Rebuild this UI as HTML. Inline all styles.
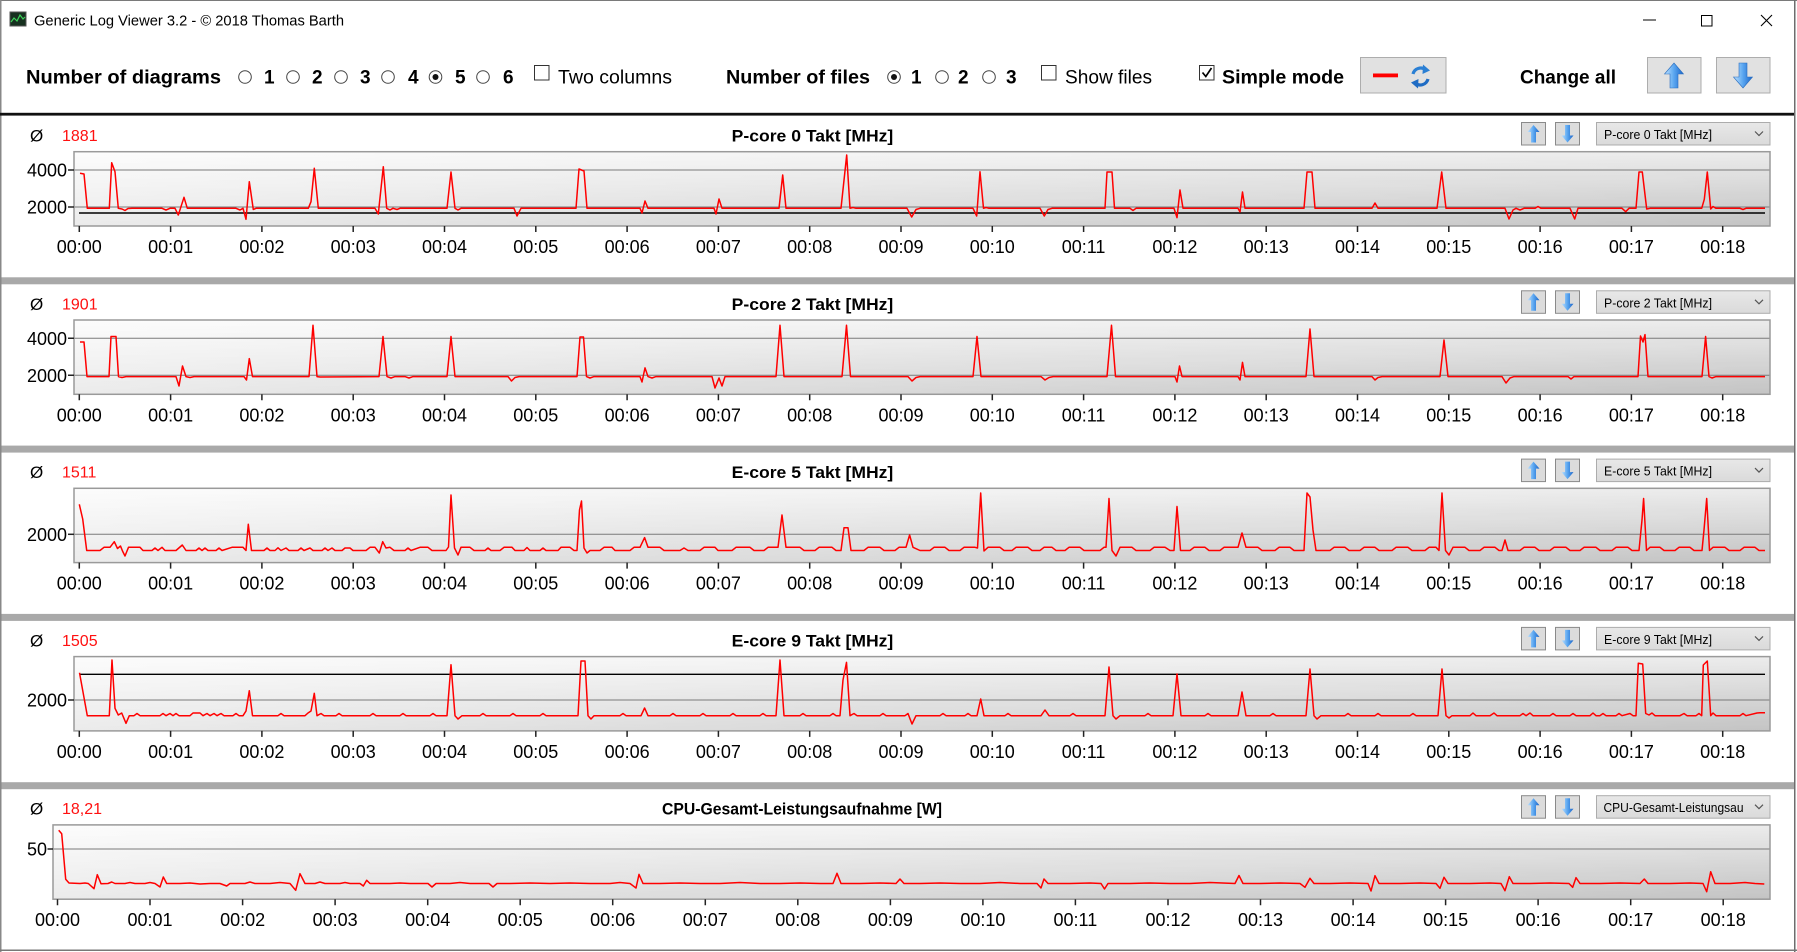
<!DOCTYPE html>
<html>
<head>
<meta charset="utf-8">
<style>
html,body{margin:0;padding:0;background:#fff;}
svg{display:block;}
text{font-family:"Liberation Sans",sans-serif;}
.b{font-weight:bold;}
.ax{font-size:18px;fill:#000;}
.xl{font-size:18px;fill:#000;text-anchor:middle;}
.tb{font-size:19px;fill:#000;}
.hd{font-size:17px;fill:#000;}
.val{font-size:16px;fill:#ff1010;}
.dd{font-size:12.5px;fill:#000;}
.red{fill:none;stroke:#ff0000;stroke-width:1.5;stroke-linejoin:round;}
.grid{stroke:#7a7a7a;stroke-width:1;}
.tick{stroke:#222;stroke-width:1.5;fill:none;}
</style>
</head>
<body>
<svg width="1797" height="952" viewBox="0 0 1797 952" xmlns="http://www.w3.org/2000/svg">
<defs>
<linearGradient id="gh" x1="0" y1="0" x2="1" y2="0"><stop offset="0" stop-color="#fcfcfc"/><stop offset="1" stop-color="#ececec"/></linearGradient>
<linearGradient id="gv" x1="0" y1="0" x2="0" y2="1"><stop offset="0" stop-color="#000" stop-opacity="0"/><stop offset="1" stop-color="#000" stop-opacity="0.17"/></linearGradient>
<linearGradient id="mg" x1="0" y1="0" x2="1" y2="0"><stop offset="0" stop-color="#646464"/><stop offset="1" stop-color="#ffffff"/></linearGradient>
<mask id="m" maskContentUnits="objectBoundingBox"><rect x="0" y="0" width="1" height="1" fill="url(#mg)"/></mask>
<linearGradient id="ga" x1="0" y1="0" x2="1" y2="0"><stop offset="0" stop-color="#bfe2ff"/><stop offset="0.5" stop-color="#5aa6f0"/><stop offset="1" stop-color="#1a64c8"/></linearGradient>
<linearGradient id="btn" x1="0" y1="0" x2="0" y2="1"><stop offset="0" stop-color="#e8e8e8"/><stop offset="1" stop-color="#dadada"/></linearGradient>
</defs>

<rect x="0" y="0" width="1797" height="952" fill="#fff"/>

<!-- window frame -->
<rect x="0" y="0" width="1797" height="1" fill="#7a7a7a"/>
<rect x="0" y="0" width="1.5" height="952" fill="#888"/>
<rect x="1794" y="0" width="1.5" height="952" fill="#6d6d6d"/>
<rect x="0" y="949.5" width="1797" height="1.5" fill="#777"/>

<!-- title bar -->
<rect x="10" y="12" width="16" height="14" fill="#16301f" stroke="#555" stroke-width="1"/>
<polyline points="11,22 14,18 17,21 20,15 23,19 25,17" fill="none" stroke="#3fd35a" stroke-width="1.2"/>
<text x="34" y="25.5" font-size="14.7" fill="#000" textLength="310" lengthAdjust="spacingAndGlyphs">Generic Log Viewer 3.2 - © 2018 Thomas Barth</text>
<line x1="1643" y1="20" x2="1656" y2="20" stroke="#000" stroke-width="1"/>
<rect x="1701.5" y="15.5" width="10.5" height="10.5" fill="none" stroke="#000" stroke-width="1"/>
<path d="M1761 15 L1772 26 M1772 15 L1761 26" stroke="#000" stroke-width="1.1"/>

<!-- toolbar -->
<text class="tb b" x="26" y="83.3" textLength="195" lengthAdjust="spacingAndGlyphs">Number of diagrams</text>
<g fill="#fff" stroke="#444" stroke-width="1">
<circle cx="245" cy="77" r="6.3"/><circle cx="293" cy="77" r="6.3"/><circle cx="341" cy="77" r="6.3"/>
<circle cx="388" cy="77" r="6.3"/><circle cx="435.5" cy="77" r="6.3"/><circle cx="483" cy="77" r="6.3"/>
</g>
<circle cx="435.5" cy="77" r="3" fill="#111"/>
<text class="tb b" x="264" y="83.3">1</text>
<text class="tb b" x="312" y="83.3">2</text>
<text class="tb b" x="360" y="83.3">3</text>
<text class="tb b" x="408" y="83.3">4</text>
<text class="tb b" x="455" y="83.3">5</text>
<text class="tb b" x="503" y="83.3">6</text>
<rect x="534.5" y="65.5" width="14.5" height="14.5" fill="#fff" stroke="#333" stroke-width="1"/>
<text class="tb" x="558" y="83.3" textLength="114" lengthAdjust="spacingAndGlyphs">Two columns</text>

<text class="tb b" x="726" y="83.3" textLength="144" lengthAdjust="spacingAndGlyphs">Number of files</text>
<g fill="#fff" stroke="#444" stroke-width="1">
<circle cx="894" cy="77" r="6.3"/><circle cx="942" cy="77" r="6.3"/><circle cx="989" cy="77" r="6.3"/>
</g>
<circle cx="894" cy="77" r="3" fill="#111"/>
<text class="tb b" x="911" y="83.3">1</text>
<text class="tb b" x="958" y="83.3">2</text>
<text class="tb b" x="1006" y="83.3">3</text>
<rect x="1041.5" y="65.5" width="14.5" height="14.5" fill="#fff" stroke="#333" stroke-width="1"/>
<text class="tb" x="1065" y="83.3" textLength="87" lengthAdjust="spacingAndGlyphs">Show files</text>

<rect x="1199.5" y="65.5" width="14.5" height="14.5" fill="#fff" stroke="#333" stroke-width="1"/>
<polyline points="1202.5,72.5 1205.8,76.5 1211.5,68" fill="none" stroke="#000" stroke-width="1.7"/>
<text class="tb b" x="1222" y="83.3" textLength="122" lengthAdjust="spacingAndGlyphs">Simple mode</text>

<rect x="1360.5" y="57.5" width="85.5" height="35.5" fill="#e1e1e1" stroke="#adadad" stroke-width="1"/>
<rect x="1373" y="73.5" width="25" height="3.8" fill="#ff0000"/>
<path d="M1413 74 A8 8 0 0 1 1426 70" fill="none" stroke="#2a7fd4" stroke-width="3.2"/>
<polygon points="1423,64.5 1430,70.5 1422.5,74" fill="#2a7fd4"/>
<path d="M1428 79 A8 8 0 0 1 1415 83" fill="none" stroke="#1f6cc4" stroke-width="3.2"/>
<polygon points="1418,88.5 1411,82.5 1418.5,79" fill="#1f6cc4"/>

<text class="tb b" x="1520" y="83.3" textLength="96" lengthAdjust="spacingAndGlyphs">Change all</text>
<rect x="1647.5" y="57.5" width="53.5" height="35.5" fill="#e1e1e1" stroke="#adadad" stroke-width="1"/>
<polygon points="1674,63 1683.5,74 1678,74 1678,88 1670,88 1670,74 1664.5,74" fill="url(#ga)" stroke="#2b6fc0" stroke-width="0.6"/>
<rect x="1716.5" y="57.5" width="53.5" height="35.5" fill="#e1e1e1" stroke="#adadad" stroke-width="1"/>
<polygon points="1743,88 1752.5,77 1747,77 1747,63 1739,63 1739,77 1733.5,77" fill="url(#ga)" stroke="#2b6fc0" stroke-width="0.6"/>

<!-- top black separator -->
<rect x="0" y="112.8" width="1794" height="2.8" fill="#111"/>

<!-- separator bars -->
<rect x="1.5" y="277.3" width="1792.5" height="7" fill="#a9a9a9"/>
<rect x="1.5" y="445.6" width="1792.5" height="7" fill="#a9a9a9"/>
<rect x="1.5" y="613.9" width="1792.5" height="7" fill="#a9a9a9"/>
<rect x="1.5" y="782.2" width="1792.5" height="7" fill="#a9a9a9"/>

<!-- ================= PANEL 1 ================= -->
<text class="hd" x="30" y="141.5">Ø</text>
<text class="val" x="62" y="141">1881</text>
<text class="hd b" x="812.5" y="141.5" text-anchor="middle" textLength="161.6" lengthAdjust="spacingAndGlyphs">P-core 0 Takt [MHz]</text>
<rect x="1521.5" y="122.5" width="24" height="22.5" fill="#dcdcdc" stroke="#8a8a8a" stroke-width="1"/>
<polygon points="1533.5,125 1539.5,132 1536,132 1536,142.5 1531,142.5 1531,132 1527.5,132" fill="url(#ga)"/>
<rect x="1555.5" y="122.5" width="24" height="22.5" fill="#dcdcdc" stroke="#8a8a8a" stroke-width="1"/>
<polygon points="1567.5,142.5 1573.5,135.5 1570,135.5 1570,125 1565,125 1565,135.5 1561.5,135.5" fill="url(#ga)"/>
<rect x="1596.5" y="122.5" width="173.5" height="22.5" fill="url(#btn)" stroke="#acacac" stroke-width="1"/>
<text class="dd" x="1604" y="139" textLength="108" lengthAdjust="spacingAndGlyphs">P-core 0 Takt [MHz]</text>
<polyline points="1755,131.5 1759,135.5 1763,131.5" fill="none" stroke="#555" stroke-width="1.2"/>

<rect x="74" y="151.7" width="1696" height="74.3" fill="url(#gh)"/>
<rect x="74" y="151.7" width="1696" height="74.3" fill="url(#gv)" mask="url(#m)"/>
<line class="grid" x1="74" x2="1770" y1="170" y2="170"/>
<line class="grid" x1="74" x2="1770" y1="207" y2="207"/>
<line x1="79" x2="1765" y1="213" y2="213" stroke="#000" stroke-width="1.4"/>
<polyline class="red" points="80,173.3 84,174 87.3,208.3 109.3,208.3 111.7,162.7 115,171.7 118.3,208.3 122,209 125,210.5 128,208.5 132,208.3 162,208.3 166,210 170,208.3 175,208.3 178.3,215 184,197.3 187.3,208.3 236,208.3 240,210 243,208.3 246,219.3 249.3,181.7 253.3,209.5 256,208.3 308.3,208.3 311,201.7 314.3,168.3 318.3,208.3 375,208.3 378.3,214 383.3,166.7 386.7,208.3 390,210 393,208.3 397,209.5 400,208.3 447,208.3 451,172 455,208.3 458,210 461,208.3 514,208.3 517,216 521,208.3 576,208.3 579,169 584,171 587,208.3 640,208.3 642,213 645,201 648,208.3 714,208.3 716,214 719,199 722,208.3 779,208.3 782.7,175 786,208.3 841,208.3 846.7,155 850,208.3 853,207.5 856,208.3 907,208.3 911.7,217 916,209.5 920,208.3 973,208.3 976.7,216 980,171.7 983.5,208.3 986,207.5 989,208.3 1040,208.3 1044.3,216 1048,209.5 1052,208.3 1105,208.3 1107,172 1112,172 1114.5,208.3 1130,208.3 1133,210.5 1136,208.3 1174,208.3 1177,217.7 1180,190 1183,208.3 1238,208.3 1240,212 1242.5,192 1245,208.3 1304,208.3 1307,172 1312,172 1315,208.3 1372,208.3 1375,203 1378,208.3 1437,208.3 1441.7,172 1446,208.3 1505,208.3 1509,219 1513,210 1516,208.3 1520,210 1524,208.3 1535,208.3 1538,206.5 1541,208.3 1570,208.3 1574.7,219 1578,208.3 1622,208.3 1625.7,211.7 1629,208.3 1636,208.3 1639,172 1642.3,172 1646.7,209 1650,208.3 1701.7,208.3 1704.3,199.3 1707.3,172 1710.7,209 1713,206.5 1716,208.3 1740,208.3 1743,209.5 1746,208.3 1765,208.3"/>
<rect x="74" y="151.7" width="1696" height="74.3" fill="none" stroke="#9a9a9a" stroke-width="1.5"/>
<path class="tick" d="M68 170h6M68 207h6"/>
<text class="ax" x="67" y="176.5" text-anchor="end">4000</text>
<text class="ax" x="67" y="213.5" text-anchor="end">2000</text>
<path class="tick" d="M79.3 226v6M170.6 226v6M261.9 226v6M353.2 226v6M444.5 226v6M535.8 226v6M627.1 226v6M718.4 226v6M809.7 226v6M901 226v6M992.3 226v6M1083.6 226v6M1174.9 226v6M1266.2 226v6M1357.5 226v6M1448.8 226v6M1540.1 226v6M1631.4 226v6M1722.7 226v6"/>
<text class="xl" x="79.3" y="253">00:00</text><text class="xl" x="170.6" y="253">00:01</text><text class="xl" x="261.9" y="253">00:02</text><text class="xl" x="353.2" y="253">00:03</text><text class="xl" x="444.5" y="253">00:04</text><text class="xl" x="535.8" y="253">00:05</text><text class="xl" x="627.1" y="253">00:06</text><text class="xl" x="718.4" y="253">00:07</text><text class="xl" x="809.7" y="253">00:08</text><text class="xl" x="901" y="253">00:09</text><text class="xl" x="992.3" y="253">00:10</text><text class="xl" x="1083.6" y="253">00:11</text><text class="xl" x="1174.9" y="253">00:12</text><text class="xl" x="1266.2" y="253">00:13</text><text class="xl" x="1357.5" y="253">00:14</text><text class="xl" x="1448.8" y="253">00:15</text><text class="xl" x="1540.1" y="253">00:16</text><text class="xl" x="1631.4" y="253">00:17</text><text class="xl" x="1722.7" y="253">00:18</text>

<!-- ================= PANEL 2 ================= -->
<text class="hd" x="30" y="309.8">Ø</text>
<text class="val" x="62" y="309.3">1901</text>
<text class="hd b" x="812.5" y="309.8" text-anchor="middle" textLength="161.6" lengthAdjust="spacingAndGlyphs">P-core 2 Takt [MHz]</text>
<rect x="1521.5" y="290.8" width="24" height="22.5" fill="#dcdcdc" stroke="#8a8a8a" stroke-width="1"/>
<polygon points="1533.5,293.3 1539.5,300.3 1536,300.3 1536,310.8 1531,310.8 1531,300.3 1527.5,300.3" fill="url(#ga)"/>
<rect x="1555.5" y="290.8" width="24" height="22.5" fill="#dcdcdc" stroke="#8a8a8a" stroke-width="1"/>
<polygon points="1567.5,310.8 1573.5,303.8 1570,303.8 1570,293.3 1565,293.3 1565,303.8 1561.5,303.8" fill="url(#ga)"/>
<rect x="1596.5" y="290.8" width="173.5" height="22.5" fill="url(#btn)" stroke="#acacac" stroke-width="1"/>
<text class="dd" x="1604" y="307.3" textLength="108" lengthAdjust="spacingAndGlyphs">P-core 2 Takt [MHz]</text>
<polyline points="1755,299.8 1759,303.8 1763,299.8" fill="none" stroke="#555" stroke-width="1.2"/>

<rect x="74" y="320" width="1696" height="74.3" fill="url(#gh)"/>
<rect x="74" y="320" width="1696" height="74.3" fill="url(#gv)" mask="url(#m)"/>
<line class="grid" x1="74" x2="1770" y1="338.3" y2="338.3"/>
<line class="grid" x1="74" x2="1770" y1="375.3" y2="375.3"/>
<polyline class="red" points="80,342 84,342 87,376.6 109,376.6 111,336.5 116,336.5 118.5,376.6 122,377.5 126,376.6 176,376.6 179,386 182.5,366 186,376.6 190,377.5 194,376.6 244,376.6 246.5,380 249.3,358.6 252.5,376.6 309,376.6 313,325.3 317,376.6 320,377 379,376.6 383,336.5 387,376.6 391,378 395,376.6 405,376.6 409,378 413,376.6 447,376.6 451,336.5 455,376.6 508,376.6 511.5,381 515,377.5 519,376.6 577,376.6 580,337 583.5,337 586.5,376.6 590,378 594,376.6 640,376.6 642,382 645,367.9 648,376.6 652,378 656,376.6 712,376.6 715,388 719,378 722,386 725,376.6 776,376.6 780,325.3 784,376.6 842,376.6 846.5,325.3 850.5,376.6 908,376.6 912,381 916,377.5 920,376.6 973,376.6 977,336.5 981,376.6 1041,376.6 1045,380 1049,377.5 1053,376.6 1107,376.6 1111.5,325.3 1115.5,376.6 1175,376.6 1177,382 1179.5,366 1182,376.6 1238,376.6 1240,380 1242.5,362.4 1245,376.6 1306,376.6 1310,329 1314,376.6 1372,376.6 1375,380 1378,377.5 1382,376.6 1440,376.6 1444,340 1448,376.6 1502,376.6 1506,383 1510,378 1514,376.6 1568,376.6 1571,379 1574,376.6 1638,376.6 1640.5,336 1643,342 1645,334.6 1648,376.6 1702,376.6 1705.6,336.5 1709,376.6 1712,378 1716,376.6 1765,376.6"/>
<rect x="74" y="320" width="1696" height="74.3" fill="none" stroke="#9a9a9a" stroke-width="1.5"/>
<path class="tick" d="M68 338.3h6M68 375.3h6"/>
<text class="ax" x="67" y="344.8" text-anchor="end">4000</text>
<text class="ax" x="67" y="381.8" text-anchor="end">2000</text>
<path class="tick" d="M79.3 394.3v6M170.6 394.3v6M261.9 394.3v6M353.2 394.3v6M444.5 394.3v6M535.8 394.3v6M627.1 394.3v6M718.4 394.3v6M809.7 394.3v6M901 394.3v6M992.3 394.3v6M1083.6 394.3v6M1174.9 394.3v6M1266.2 394.3v6M1357.5 394.3v6M1448.8 394.3v6M1540.1 394.3v6M1631.4 394.3v6M1722.7 394.3v6"/>
<text class="xl" x="79.3" y="421.3">00:00</text><text class="xl" x="170.6" y="421.3">00:01</text><text class="xl" x="261.9" y="421.3">00:02</text><text class="xl" x="353.2" y="421.3">00:03</text><text class="xl" x="444.5" y="421.3">00:04</text><text class="xl" x="535.8" y="421.3">00:05</text><text class="xl" x="627.1" y="421.3">00:06</text><text class="xl" x="718.4" y="421.3">00:07</text><text class="xl" x="809.7" y="421.3">00:08</text><text class="xl" x="901" y="421.3">00:09</text><text class="xl" x="992.3" y="421.3">00:10</text><text class="xl" x="1083.6" y="421.3">00:11</text><text class="xl" x="1174.9" y="421.3">00:12</text><text class="xl" x="1266.2" y="421.3">00:13</text><text class="xl" x="1357.5" y="421.3">00:14</text><text class="xl" x="1448.8" y="421.3">00:15</text><text class="xl" x="1540.1" y="421.3">00:16</text><text class="xl" x="1631.4" y="421.3">00:17</text><text class="xl" x="1722.7" y="421.3">00:18</text>

<!-- ================= PANEL 3 ================= -->
<text class="hd" x="30" y="478.1">Ø</text>
<text class="val" x="62" y="477.6">1511</text>
<text class="hd b" x="812.5" y="478.1" text-anchor="middle" textLength="161.6" lengthAdjust="spacingAndGlyphs">E-core 5 Takt [MHz]</text>
<rect x="1521.5" y="459.1" width="24" height="22.5" fill="#dcdcdc" stroke="#8a8a8a" stroke-width="1"/>
<polygon points="1533.5,461.6 1539.5,468.6 1536,468.6 1536,479.1 1531,479.1 1531,468.6 1527.5,468.6" fill="url(#ga)"/>
<rect x="1555.5" y="459.1" width="24" height="22.5" fill="#dcdcdc" stroke="#8a8a8a" stroke-width="1"/>
<polygon points="1567.5,479.1 1573.5,472.1 1570,472.1 1570,461.6 1565,461.6 1565,472.1 1561.5,472.1" fill="url(#ga)"/>
<rect x="1596.5" y="459.1" width="173.5" height="22.5" fill="url(#btn)" stroke="#acacac" stroke-width="1"/>
<text class="dd" x="1604" y="475.6" textLength="108" lengthAdjust="spacingAndGlyphs">E-core 5 Takt [MHz]</text>
<polyline points="1755,468.1 1759,472.1 1763,468.1" fill="none" stroke="#555" stroke-width="1.2"/>

<rect x="74" y="488.3" width="1696" height="74.3" fill="url(#gh)"/>
<rect x="74" y="488.3" width="1696" height="74.3" fill="url(#gv)" mask="url(#m)"/>
<line class="grid" x1="74" x2="1770" y1="534.3" y2="534.3"/>
<polyline class="red" points="79.3,504.3 82.7,519 86.7,550.5 100,550.5 104,547.3 110,547.3 114.3,541.7 117.5,548.5 120.5,546 122.5,551 125,556 128.5,547.3 140,547.3 143,550.5 152,550.5 155,548 158,550.5 162,547.3 165,550.5 176,550.5 182.3,545 186,550.5 196,550.5 199,548 202,550.5 205,548 208,550.5 216,550.5 219,548 222,550.5 232,547.3 243,547.3 246,550.5 248.3,524.3 251.5,550.5 264,550.5 267,548 270,550.5 275,550.5 278,547.8 281,550.5 286,548 289,550.5 298,550.5 301,548 304,550.5 310,548 313,550.5 322,550.5 325,548 328,550.5 332,548 335,550.5 342,550.5 345,548 350,548 353,550.5 366,550.5 370,547.3 375,547.3 379.3,553 382.7,541.7 386,548 390,547.3 394,550.5 405,550.5 408,548 411,550.5 420,547.3 428,547.3 432,550.5 446,550.5 448.5,547 451,495 454.5,548 458,555 461,547.3 470,547.3 474,550.5 485,550.5 488,548 491,550.5 500,550.5 504,547.3 512,547.3 515,550.5 524,550.5 527,547.5 530,550.5 540,550.5 543,548 546,550.5 558,550.5 561,547.3 570,547.3 574,550.5 577,550.5 579.5,510 581.5,501 584,548 587,553 590,550.5 600,550.5 604,547.3 612,547.3 615,550.5 630,550.5 634,547.3 640,547.3 644.6,537.6 648,547.3 660,547.3 664,550.5 680,550.5 684,548 688,550.5 700,550.5 704,547.3 715,547.3 718,550.5 732,550.5 736,547.3 750,547.3 754,550.5 764,550.5 768,547.3 778,547.3 782,515 786,547.3 800,547.3 804,550.5 815,550.5 819,547.3 832,547.3 836,550.5 841,550.5 844,527.8 848,527.8 851,550.5 864,550.5 868,547.3 880,547.3 884,550.5 895,550.5 899,547.3 906,547.3 909.6,535 913,547.3 920,550.5 930,550.5 934,547.3 945,547.3 949,550.5 960,550.5 964,547.3 975,547.3 977.5,548 980.7,493 984,551 988,547.3 1000,547.3 1004,550.5 1012,550.5 1016,547.3 1028,547.3 1032,550.5 1040,550.5 1044,547.3 1052,547.3 1056,550.5 1065,550.5 1069,547.3 1080,547.3 1084,550.5 1100,550.5 1104,547.3 1106,547.3 1109,498.5 1112,550.5 1116,556 1120,547.3 1132,547.3 1136,550.5 1150,550.5 1154,547.3 1165,547.3 1170,550.5 1174,550.5 1177,506.5 1180.5,550.5 1190,550.5 1194,547.3 1205,547.3 1209,550.5 1220,550.5 1224,547.3 1238,547.3 1242,533 1246,547.3 1258,547.3 1262,550.5 1275,550.5 1279,547.3 1290,547.3 1294,550.5 1304,550.5 1307,493 1310,497 1313,530 1316,550.5 1330,550.5 1334,547.3 1345,547.3 1349,550.5 1360,550.5 1364,547.3 1375,547.3 1379,550.5 1392,550.5 1396,547.3 1408,547.3 1412,550.5 1425,550.5 1429,547.3 1436,547.3 1439,550.5 1442,493 1445.5,550.5 1449,555 1453,547.3 1465,547.3 1469,550.5 1480,550.5 1484,547.3 1495,547.3 1499,550.5 1502,550.5 1505,540 1508,550.5 1520,550.5 1524,547.3 1535,547.3 1539,550.5 1550,550.5 1554,547.3 1566,547.3 1570,550.5 1580,550.5 1584,547.3 1596,547.3 1600,550.5 1612,550.5 1616,547.3 1628,547.3 1632,550.5 1639,550.5 1642,520 1643.6,498.5 1646.5,550.5 1650,547.3 1660,547.3 1664,550.5 1675,550.5 1679,547.3 1690,547.3 1694,550.5 1702,550.5 1704,530 1706.7,498.5 1709.5,550.5 1713,547.3 1725,547.3 1729,550.5 1740,550.5 1744,547.3 1755,547.3 1759,550.5 1765,550.5"/>
<rect x="74" y="488.3" width="1696" height="74.3" fill="none" stroke="#9a9a9a" stroke-width="1.5"/>
<path class="tick" d="M68 534.3h6"/>
<text class="ax" x="67" y="540.8" text-anchor="end">2000</text>
<path class="tick" d="M79.3 562.6v6M170.6 562.6v6M261.9 562.6v6M353.2 562.6v6M444.5 562.6v6M535.8 562.6v6M627.1 562.6v6M718.4 562.6v6M809.7 562.6v6M901 562.6v6M992.3 562.6v6M1083.6 562.6v6M1174.9 562.6v6M1266.2 562.6v6M1357.5 562.6v6M1448.8 562.6v6M1540.1 562.6v6M1631.4 562.6v6M1722.7 562.6v6"/>
<text class="xl" x="79.3" y="589.6">00:00</text><text class="xl" x="170.6" y="589.6">00:01</text><text class="xl" x="261.9" y="589.6">00:02</text><text class="xl" x="353.2" y="589.6">00:03</text><text class="xl" x="444.5" y="589.6">00:04</text><text class="xl" x="535.8" y="589.6">00:05</text><text class="xl" x="627.1" y="589.6">00:06</text><text class="xl" x="718.4" y="589.6">00:07</text><text class="xl" x="809.7" y="589.6">00:08</text><text class="xl" x="901" y="589.6">00:09</text><text class="xl" x="992.3" y="589.6">00:10</text><text class="xl" x="1083.6" y="589.6">00:11</text><text class="xl" x="1174.9" y="589.6">00:12</text><text class="xl" x="1266.2" y="589.6">00:13</text><text class="xl" x="1357.5" y="589.6">00:14</text><text class="xl" x="1448.8" y="589.6">00:15</text><text class="xl" x="1540.1" y="589.6">00:16</text><text class="xl" x="1631.4" y="589.6">00:17</text><text class="xl" x="1722.7" y="589.6">00:18</text>

<!-- ================= PANEL 4 ================= -->
<text class="hd" x="30" y="646.4">Ø</text>
<text class="val" x="62" y="645.9">1505</text>
<text class="hd b" x="812.5" y="646.4" text-anchor="middle" textLength="161.6" lengthAdjust="spacingAndGlyphs">E-core 9 Takt [MHz]</text>
<rect x="1521.5" y="627.4" width="24" height="22.5" fill="#dcdcdc" stroke="#8a8a8a" stroke-width="1"/>
<polygon points="1533.5,629.9 1539.5,636.9 1536,636.9 1536,647.4 1531,647.4 1531,636.9 1527.5,636.9" fill="url(#ga)"/>
<rect x="1555.5" y="627.4" width="24" height="22.5" fill="#dcdcdc" stroke="#8a8a8a" stroke-width="1"/>
<polygon points="1567.5,647.4 1573.5,640.4 1570,640.4 1570,629.9 1565,629.9 1565,640.4 1561.5,640.4" fill="url(#ga)"/>
<rect x="1596.5" y="627.4" width="173.5" height="22.5" fill="url(#btn)" stroke="#acacac" stroke-width="1"/>
<text class="dd" x="1604" y="643.9" textLength="108" lengthAdjust="spacingAndGlyphs">E-core 9 Takt [MHz]</text>
<polyline points="1755,636.4 1759,640.4 1763,636.4" fill="none" stroke="#555" stroke-width="1.2"/>

<rect x="74" y="656.6" width="1696" height="74.3" fill="url(#gh)"/>
<rect x="74" y="656.6" width="1696" height="74.3" fill="url(#gv)" mask="url(#m)"/>
<line class="grid" x1="74" x2="1770" y1="700" y2="700"/>
<line x1="80" x2="1765" y1="674.3" y2="674.3" stroke="#000" stroke-width="1.4"/>
<polyline class="red" points="79.5,672.7 87.3,715.7 109.3,715.7 112,660 115,708.3 118.3,715 121.7,713 126,723.3 129.3,715.7 134,715.7 137,713.5 140,715.7 160,715.7 163,713.5 166,715.7 170,713.5 173,715.7 176,713.5 179,715.7 190,715.7 193,713 200,713 203,715.7 207,713.5 210,715.7 214,713.5 217,715.7 221,713.5 224,715.7 233,715.7 236,713.5 239,715.7 243,715.7 246,711 249.3,690.7 252.5,715.7 278,715.7 281,713.5 284,715.7 305,715.7 308,713 311,711 314.3,693.3 317,715.7 321,713.5 324,715.7 336,715.7 339,713.5 342,715.7 370,715.7 373,713.5 376,715.7 400,715.7 403,713.5 406,715.7 430,715.7 433,713.5 436,715.7 447,715.7 451,664.7 455,715.7 458,719 462,715.7 480,715.7 483,713.5 486,715.7 510,715.7 513,713.5 516,715.7 540,715.7 543,713.5 546,715.7 578,715.7 581,661 585,661 588,715.7 591,719 594,715.7 620,715.7 623,713.5 626,715.7 641,715.7 644.6,708 648,715.7 670,715.7 673,713.5 676,715.7 700,715.7 703,713.5 706,715.7 730,715.7 733,713.5 736,715.7 760,715.7 763,713.5 766,715.7 776,715.7 780,660 784,715.7 800,715.7 803,713.5 806,715.7 830,715.7 833,713.5 836,715.7 840,715.7 843,680 846.5,662.4 850,715.7 854,713.5 857,715.7 880,715.7 883,713.5 886,715.7 905,715.7 908,713.5 912,724 916,715.7 940,715.7 943,713.5 946,715.7 965,715.7 968,713.5 971,715.7 977,715.7 980.7,699 984,715.7 1005,715.7 1008,713.5 1011,715.7 1041,715.7 1045,710 1049,715.7 1070,715.7 1073,713.5 1076,715.7 1105,715.7 1109,667 1113,715.7 1116,719 1120,715.7 1145,715.7 1148,713.5 1151,715.7 1173,715.7 1177,674 1181,715.7 1205,715.7 1208,713.5 1211,715.7 1238,715.7 1242,692 1246,715.7 1270,715.7 1273,713.5 1276,715.7 1306,715.7 1310,669 1314,715.7 1317,719 1321,715.7 1345,715.7 1348,713.5 1351,715.7 1375,715.7 1378,713.5 1381,715.7 1410,715.7 1413,713.5 1416,715.7 1438,715.7 1442,669 1446,715.7 1449,718 1452,715.7 1470,715.7 1473,713 1476,715.7 1490,715.7 1494,713 1497,715.7 1520,715.7 1523,713.5 1526,715.7 1530,713 1533,715.7 1550,715.7 1553,713.5 1556,715.7 1570,715.7 1573,713.5 1576,715.7 1590,715.7 1593,713 1596,715.7 1600,715.7 1603,713.5 1606,715.7 1616,715.7 1619,713.5 1622,715.7 1630,713.5 1633,715.7 1636,715.7 1638.3,663.3 1642.7,664 1645.7,713.5 1649,715 1652,713 1655,715.7 1680,715.7 1684,713.5 1687,715.7 1696,715.7 1699,713.5 1701.7,715.7 1703.3,665 1707.3,661 1710.7,715.7 1713,713 1716,715.7 1740,715.7 1743,713.5 1746,715.7 1757,713 1760,712.7 1765,712.7"/>
<rect x="74" y="656.6" width="1696" height="74.3" fill="none" stroke="#9a9a9a" stroke-width="1.5"/>
<path class="tick" d="M68 700h6"/>
<text class="ax" x="67" y="706.5" text-anchor="end">2000</text>
<path class="tick" d="M79.3 730.9v6M170.6 730.9v6M261.9 730.9v6M353.2 730.9v6M444.5 730.9v6M535.8 730.9v6M627.1 730.9v6M718.4 730.9v6M809.7 730.9v6M901 730.9v6M992.3 730.9v6M1083.6 730.9v6M1174.9 730.9v6M1266.2 730.9v6M1357.5 730.9v6M1448.8 730.9v6M1540.1 730.9v6M1631.4 730.9v6M1722.7 730.9v6"/>
<text class="xl" x="79.3" y="757.9">00:00</text><text class="xl" x="170.6" y="757.9">00:01</text><text class="xl" x="261.9" y="757.9">00:02</text><text class="xl" x="353.2" y="757.9">00:03</text><text class="xl" x="444.5" y="757.9">00:04</text><text class="xl" x="535.8" y="757.9">00:05</text><text class="xl" x="627.1" y="757.9">00:06</text><text class="xl" x="718.4" y="757.9">00:07</text><text class="xl" x="809.7" y="757.9">00:08</text><text class="xl" x="901" y="757.9">00:09</text><text class="xl" x="992.3" y="757.9">00:10</text><text class="xl" x="1083.6" y="757.9">00:11</text><text class="xl" x="1174.9" y="757.9">00:12</text><text class="xl" x="1266.2" y="757.9">00:13</text><text class="xl" x="1357.5" y="757.9">00:14</text><text class="xl" x="1448.8" y="757.9">00:15</text><text class="xl" x="1540.1" y="757.9">00:16</text><text class="xl" x="1631.4" y="757.9">00:17</text><text class="xl" x="1722.7" y="757.9">00:18</text>

<!-- ================= PANEL 5 ================= -->
<text class="hd" x="30" y="814.7">Ø</text>
<text class="val" x="62" y="814.2">18,21</text>
<text class="hd b" x="802" y="814.7" text-anchor="middle" textLength="280" lengthAdjust="spacingAndGlyphs">CPU-Gesamt-Leistungsaufnahme [W]</text>
<rect x="1521.5" y="795.7" width="24" height="22.5" fill="#dcdcdc" stroke="#8a8a8a" stroke-width="1"/>
<polygon points="1533.5,798.2 1539.5,805.2 1536,805.2 1536,815.7 1531,815.7 1531,805.2 1527.5,805.2" fill="url(#ga)"/>
<rect x="1555.5" y="795.7" width="24" height="22.5" fill="#dcdcdc" stroke="#8a8a8a" stroke-width="1"/>
<polygon points="1567.5,815.7 1573.5,808.7 1570,808.7 1570,798.2 1565,798.2 1565,808.7 1561.5,808.7" fill="url(#ga)"/>
<rect x="1596.5" y="795.7" width="173.5" height="22.5" fill="url(#btn)" stroke="#acacac" stroke-width="1"/>
<text class="dd" x="1603.5" y="812.2" textLength="140" lengthAdjust="spacingAndGlyphs">CPU-Gesamt-Leistungsau</text>
<polyline points="1755,804.7 1759,808.7 1763,804.7" fill="none" stroke="#555" stroke-width="1.2"/>

<rect x="53" y="824.9" width="1717" height="74.3" fill="url(#gh)"/>
<rect x="53" y="824.9" width="1717" height="74.3" fill="url(#gv)" mask="url(#m)"/>
<line class="grid" x1="53" x2="1770" y1="849" y2="849"/>
<polyline class="red" points="58.7,830.3 61.7,833.7 65.7,879.3 69,883 80,883.5 85,883 88.3,883.5 94,888.7 97.3,874.7 101,883.7 108,883.5 111.7,882 115,883.5 125,883.5 130,882.5 135,883.5 145,883.5 150,882.5 155,883.5 160,887 163.3,877 166.7,883.5 180,883.5 190,883 200,884 210,883.5 220,883.5 226.7,886 230,883.5 245,883.5 250,882 255,883.5 270,883.5 280,882.5 290,883.5 295.7,890.3 300,873.7 305,883.5 315,883.5 320,882 325,883.5 340,883.5 345,882.5 350,883.5 360,883.5 363.3,886 366.7,880.3 370,883.5 390,883.5 400,883 410,883.5 428,883.5 432,887 436,883.5 450,883.5 460,882.5 470,883.5 489,883.5 493,887 497,883.5 510,883.5 530,883 550,883.5 570,883 590,883.5 610,883.5 620,882.5 630,883.5 636,888 639,874.4 643,883.5 660,883.5 680,883 700,883.5 720,883.5 740,882.5 760,883.5 780,883.5 800,883 820,883.5 833,883.5 837,873.3 841,883.5 860,883.5 880,883 896,883.5 900,879 904,883.5 920,883.5 940,883 960,883.5 980,883.5 1000,882.5 1020,883.5 1037,883.5 1041,888 1044,879 1048,883.5 1070,883.5 1090,883 1101,883.5 1104.5,889 1108,883.5 1130,883.5 1150,883 1170,883.5 1190,883.5 1210,882.5 1235,883.5 1239,875.5 1243,883.5 1260,883.5 1280,883 1300,883.5 1305,887.3 1310,878.3 1314,883.5 1330,883.5 1350,883 1368,883.5 1371,891 1375,875.7 1379,883.5 1400,883.5 1420,883 1436,883.5 1440,888.3 1444,877.3 1448,883.5 1470,883.5 1490,883 1501,883.5 1505,890.7 1509.3,876.7 1513,883.5 1530,883.5 1550,883 1569,883.5 1572.7,887.3 1576,877.7 1580,883.5 1600,883.5 1620,883 1640,883.5 1644.3,879 1648,883.5 1670,883.5 1690,883 1703,883.5 1706.7,891.7 1710.7,871.7 1715,883.5 1730,883.5 1745,882.5 1755,883.5 1764.3,884"/>
<rect x="53" y="824.9" width="1717" height="74.3" fill="none" stroke="#9a9a9a" stroke-width="1.5"/>
<path class="tick" d="M47.5 849h5.5"/>
<text class="ax" x="47" y="855.5" text-anchor="end">50</text>
<path class="tick" d="M57.5 899.2v6M150 899.2v6M242.6 899.2v6M335.1 899.2v6M427.7 899.2v6M520.2 899.2v6M612.7 899.2v6M705.3 899.2v6M797.8 899.2v6M890.4 899.2v6M982.9 899.2v6M1075.4 899.2v6M1168 899.2v6M1260.5 899.2v6M1353.1 899.2v6M1445.6 899.2v6M1538.1 899.2v6M1630.7 899.2v6M1723.2 899.2v6"/>
<text class="xl" x="57.5" y="926.2">00:00</text><text class="xl" x="150" y="926.2">00:01</text><text class="xl" x="242.6" y="926.2">00:02</text><text class="xl" x="335.1" y="926.2">00:03</text><text class="xl" x="427.7" y="926.2">00:04</text><text class="xl" x="520.2" y="926.2">00:05</text><text class="xl" x="612.7" y="926.2">00:06</text><text class="xl" x="705.3" y="926.2">00:07</text><text class="xl" x="797.8" y="926.2">00:08</text><text class="xl" x="890.4" y="926.2">00:09</text><text class="xl" x="982.9" y="926.2">00:10</text><text class="xl" x="1075.4" y="926.2">00:11</text><text class="xl" x="1168" y="926.2">00:12</text><text class="xl" x="1260.5" y="926.2">00:13</text><text class="xl" x="1353.1" y="926.2">00:14</text><text class="xl" x="1445.6" y="926.2">00:15</text><text class="xl" x="1538.1" y="926.2">00:16</text><text class="xl" x="1630.7" y="926.2">00:17</text><text class="xl" x="1723.2" y="926.2">00:18</text>
</svg>
</body>
</html>
